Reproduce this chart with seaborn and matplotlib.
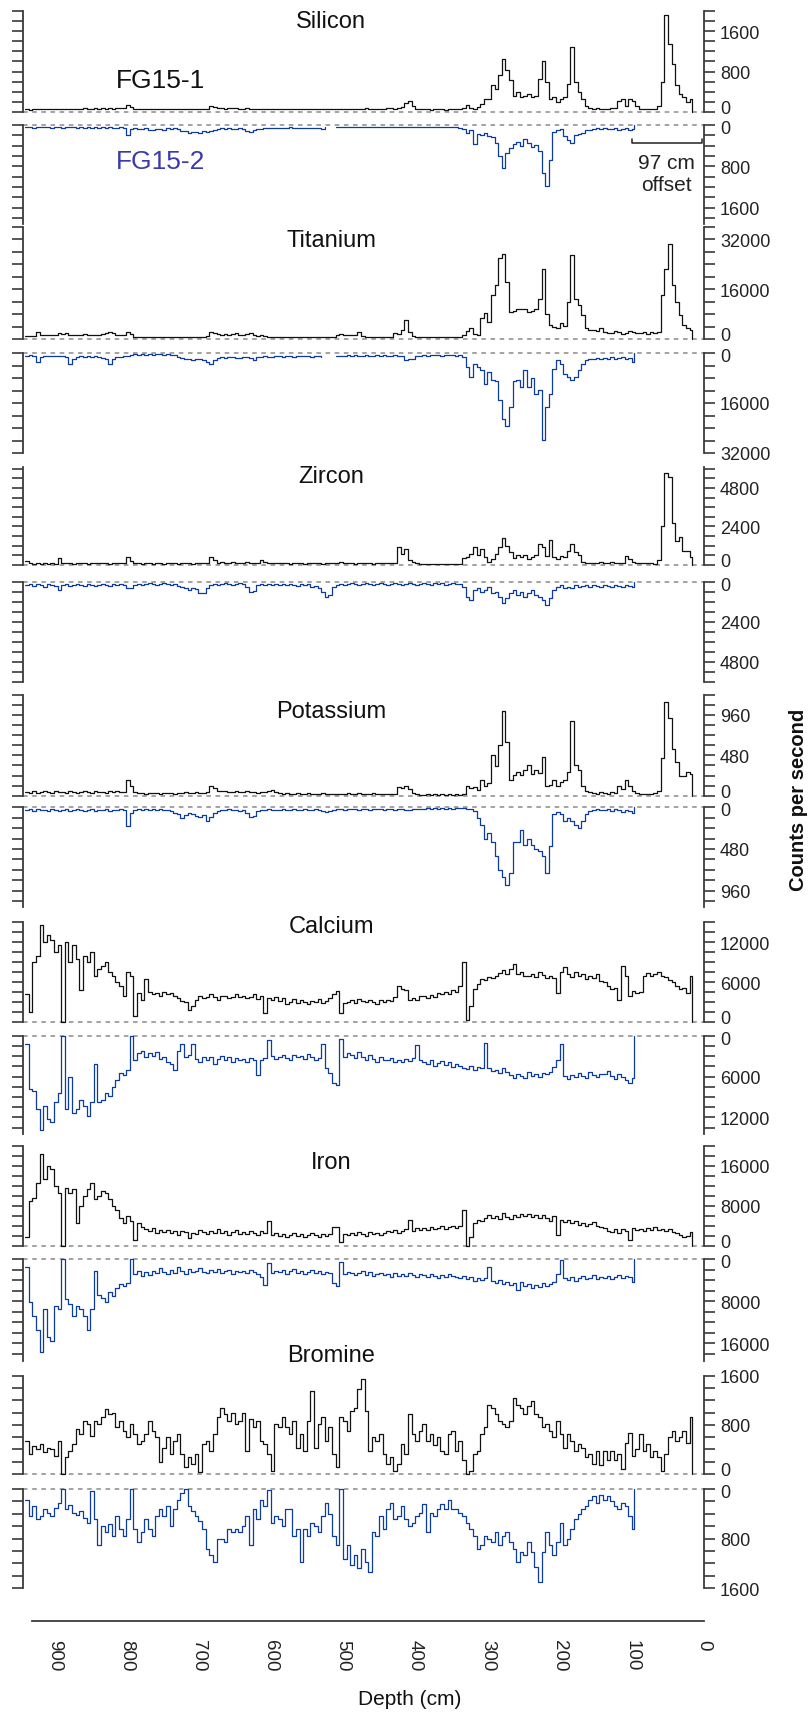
import numpy as np
import pandas as pd
import matplotlib
matplotlib.use("Agg")
import matplotlib.pyplot as plt
import seaborn as sns
from matplotlib.ticker import MultipleLocator, FuncFormatter

nan = np.nan

# ---------------- data ----------------
DEPTH_1 = list(range(940, 15, -5)) + [17]   # FG15-1 depths (cm)
DEPTH_2 = list(range(940, 95, -5)) + [97]   # FG15-2 depths (cm)

SI_1 = [50,40,60,50,45,55,50,60,45,50, 55,50,60,45,55,50,65,55,60,70,
        60,65,55,70,60,75,80,70,140,90, 60,55,50,60,55,50,60,55,50,45,
        50,55,45,50,60,55,50,45,50,55, 60,110,100,80,70,60,75,65,70,60,
        55,65,60,50,55,60,50,45,55,60, 50,55,60,55,45,50,55,60,50,55,
        60,55,50,60,55,50,45,55,50,60, 55,60,50,55,65,60,55,50,60,55,
        65,70,60,75,90,180,220,120,60,50, 45,50,40,45,50,45,40,50,45,50,
        60,80,130,70,60,90,150,260,250,530, 460,730,1040,830,630,320,390,290,320,360,
        290,320,660,1010,600,250,290,185,250,290, 560,1280,600,390,250,115,80,60,70,50,
        60,50,80,70,220,250,115,250,220,115, 60,50,50,50,50,115,600,1930,1350,940,
        530,360,290,185,250, 0]
SI_2 = [40,30,50,40,35,45,30,50,40,45, 50,40,45,35,60,40,50,45,55,40,
        50,45,60,40,55,50,45,60,200,80, 60,70,80,60,90,100,80,70,90,60,
        70,60,80,110,120,150,140,130,160,110, 140,120,100,80,60,70,60,80,70,60,
        70,120,130,90,80,70,60,60,50,60, 50,60,55,45,50,60,55,50,60,55,
        50,60,70,35,nan,nan,40,35,40,30, 35,40,30,40,35,30,40,35,30,40,
        35,30,40,35,30,40,35,40,30,35, 40,35,30,35,40,30,35,40,30,35,
        60,80,150,100,370,180,200,150,210,240, 340,600,830,540,450,360,320,400,280,350,
        420,380,500,930,1190,670,145,100,80,210, 300,340,200,180,150,100,90,80,60,70,
        60,80,70,60,100,80,60,90,70, 0]

TI_1 = [1000,900,1100,2300,1300,1200,1400,1300,1200,1800, 1500,1800,1300,1200,1400,1300,1500,1200,1300,1400,
        1300,1500,2000,2300,1800,1400,1300,1200,2300,1600, 700,600,500,700,600,500,600,700,500,600,
        600,500,700,600,500,600,700,600,500,700, 900,2300,1800,1500,1300,1600,1200,1500,1800,1300,
        1200,1500,1800,1300,1000,1200,900,700,800,600, 700,600,700,800,600,700,600,700,800,700,
        600,700,800,700,600,700,1300,1500,1200,1300, 1400,1200,2100,900,700,600,700,800,600,700,
        700,800,1800,1500,3000,6100,2300,900,700,600, 700,600,700,800,700,600,700,800,600,700,
        700,1300,2500,3400,1500,1300,6600,8200,5500,14000, 17300,26000,27400,18300,8700,9000,9800,9500,9800,8800,
        9000,9600,13000,22600,8000,4500,4000,3400,5000,4200, 12000,26900,13000,10900,7700,3400,2800,3000,2500,3400,
        2300,2000,1800,2500,2300,1500,2000,2500,2300,2000, 1800,2200,1500,2300,2000,2300,14000,22600,30600,17300,
        12000,7700,4500,3400,3000, 0]
TI_2 = [800,700,1000,2900,1200,1000,900,1100,1000,900, 1000,1300,3400,2000,1300,1100,1200,1000,1300,1100,
        1200,1500,1800,3400,2000,1300,1200,1000,1100,500, 400,500,300,600,400,500,300,400,500,400,
        500,600,1200,1500,1800,2000,2300,1800,2000,2300, 2900,3400,2300,1500,1300,1600,1400,1300,1500,1600,
        1400,1300,1500,2300,1300,1200,1100,1400,1200,1100, 1000,1200,1100,900,1200,1000,1100,900,1000,1300,
        1100,1000,1200,nan,nan,nan,800,900,800,700, 800,700,900,800,700,800,900,700,800,700,
        800,900,700,800,900,2300,2000,1800,900,800, 700,800,700,600,700,800,700,600,700,800,
        700,1300,4500,7700,3400,4500,5500,9800,6000,8700, 9000,15000,21000,23200,17300,9000,8700,10900,5500,10900,
        8000,13000,11800,27900,17300,13000,5000,2300,3400,6600, 7700,8700,7700,5500,3400,2300,1800,2000,1500,1800,
        1500,1800,1300,2000,1600,1400,1800,1500,2900, 0]

ZR_1 = [260,110,80,100,90,110,80,100,90,440, 120,100,110,90,100,120,100,90,110,100,
        110,100,120,90,110,130,100,110,500,220, 100,110,90,100,120,90,100,110,90,100,
        110,100,90,120,100,110,90,100,120,100, 110,500,330,150,160,140,150,170,140,150,
        140,160,150,130,150,330,200,150,110,100, 110,100,120,90,100,110,100,90,110,100,
        100,110,90,100,120,100,110,200,150,110, 100,90,110,100,120,100,90,110,100,120,
        100,110,100,1100,660,990,330,200,100,90, 80,70,90,60,70,80,60,70,80,70,
        90,440,500,660,1100,600,990,500,200,400, 700,1100,1650,1210,800,450,600,500,650,400,
        500,600,1320,1100,550,1540,500,400,550,500, 900,1320,800,600,200,150,120,100,150,180,
        120,100,200,150,120,150,550,400,160,120, 110,150,120,100,80,300,2420,5700,5500,2640,
        1500,1760,880,900,500, 0]
ZR_2 = [200,150,250,150,200,300,150,200,250,500, 200,150,250,200,150,200,250,150,200,250,
        200,150,200,250,150,200,150,200,350,400, 200,150,200,150,100,150,200,150,100,150,
        200,150,250,300,400,500,350,450,700,650, 400,200,150,200,150,100,150,200,150,100,
        150,300,600,550,200,150,200,150,200,150, 200,150,200,150,200,250,150,200,150,300,
        250,400,600,900,800,300,200,150,200,150, 100,150,200,150,100,150,200,150,100,150,
        200,150,100,150,200,150,100,150,200,150, 100,150,200,100,150,100,200,150,100,150,
        150,300,900,1100,500,400,600,500,300,700, 600,900,1300,1000,700,500,800,600,900,700,
        500,800,900,1100,1400,1000,500,300,200,400, 300,400,200,300,250,200,300,200,250,300,
        200,250,300,200,250,300,200,250,300, 0]

K_1 = [40,30,50,35,45,60,40,35,50,40, 45,35,50,40,35,45,55,40,35,50,
       40,45,35,50,40,55,45,40,190,110, 40,30,35,25,30,35,30,25,35,30,
       30,25,35,30,40,30,35,40,30,35, 45,120,90,60,55,50,45,40,50,45,
       40,50,45,40,35,40,45,50,70,40, 30,25,30,20,25,30,25,20,30,25,
       20,25,30,20,25,20,15,25,20,30, 25,20,30,25,20,25,30,20,25,20,
       15,20,25,100,90,110,80,30,15,10, 10,15,10,20,10,15,10,20,10,15,
       10,20,110,90,100,70,190,110,150,480, 350,600,1010,640,190,250,280,250,300,360,
       260,300,270,460,110,130,190,110,160,190, 280,890,360,300,110,60,40,30,20,40,
       30,20,40,30,110,80,190,110,60,30, 20,15,20,25,30,60,450,1110,930,560,
       400,230,230,280,260, 0]
K_2 = [30,20,40,25,35,30,45,20,35,40, 35,25,40,30,20,35,45,30,25,40,
       30,35,25,40,30,35,25,30,220,60, 30,25,35,20,30,25,35,20,30,35,
       40,60,80,120,90,60,80,100,110,90, 155,110,70,40,30,35,25,30,35,40,
       30,60,110,100,40,30,35,25,30,35, 30,25,35,30,25,35,30,25,30,35,
       25,30,40,50,40,35,25,20,30,25, 20,25,30,20,25,30,20,25,20,30,
       25,20,30,25,20,35,30,20,25,20, 15,10,15,10,15,10,15,10,15,10,
       10,10,15,20,40,120,200,360,300,400, 560,720,800,900,760,400,400,260,440,360,
       440,480,500,560,760,450,80,50,80,155, 120,160,200,240,160,80,40,30,25,35,
       30,20,40,25,35,50,30,40,70, 0]

CA_1 = [4200,1600,9000,10000,14600,12100,13100,12300,10600,11600, 0,12100,9000,11600,9500,4800,10000,9000,10600,7000,
        8000,8500,9000,7500,7000,6000,5500,3900,7500,7000, 900,4400,3400,6500,4600,4200,4400,3900,4600,4200,
        4400,4000,3600,3200,3000,1900,2400,3400,3900,3600, 3800,4200,3800,3400,3900,4000,3600,3800,4200,3800,
        4000,3600,3800,4200,3500,3900,1400,3600,3400,3800, 3200,3600,2800,3100,3500,2900,3300,3000,2700,3200,
        3100,3500,2900,3200,3600,4200,4700,1400,2900,3100, 3300,2900,3500,3200,3000,3400,3100,2800,3300,3000,
        3400,3200,3800,5500,5000,4900,3400,3600,3300,3900, 4000,3600,4100,3800,4400,4200,4600,4300,4800,4600,
        5500,9000,350,2400,5000,5700,6500,6400,6800,6600, 7000,7400,7800,7200,8000,8800,7200,7600,7000,6900,
        7300,6800,7500,7100,6600,7000,6700,4400,7500,8300, 7200,6800,7600,6900,7300,6500,7000,6600,7200,6200,
        6000,5500,5000,5200,3400,8500,7000,3900,4700,4400, 4600,7000,7400,7000,7200,7500,7000,6800,6400,6000,
        5500,5000,5200,4400,7000, 0]
CA_2 = [1200,7900,8200,10800,13900,10300,12200,12700,9800,8400, 0,10800,6000,11300,10800,9400,10300,11800,9800,4100,
        9800,9400,8400,8900,7500,6500,5500,5800,5000,0, 3600,2600,2200,3100,2600,3000,2400,3400,3100,3800,
        4100,5000,2200,1200,3100,2900,1200,3400,3800,3100, 3600,3100,4100,3400,3000,3600,3200,3900,3300,3600,
        3400,3800,3300,3600,5800,3600,3300,700,3000,3400, 3100,2800,3300,3500,2900,3200,3000,3400,2700,3100,
        3600,3300,1200,4700,5500,7000,7200,500,3200,2600, 2900,3300,2400,3100,3600,2800,3400,3800,3200,3500,
        3600,3300,3900,3500,3800,3400,3700,3300,1400,3600, 3800,4200,3600,4400,4000,3700,4300,3900,4600,4200,
        4400,4700,4900,4400,5000,4600,4800,1000,4700,5200, 5000,5500,4800,5400,5800,6200,5600,5900,6200,5400,
        5900,5600,6100,5500,5700,5300,4600,3500,1200,5900, 6300,5800,6100,5500,5900,6200,5400,5800,6000,5600,
        5700,5200,5900,6300,5600,6000,6500,7000,6200, 0]

FE_1 = [1800,8900,9600,12600,18400,13300,16000,15300,11900,10600, 0,11600,10600,11300,4500,7900,9900,11300,12600,9300,
        9900,11000,10600,9300,7900,7200,5500,4500,5900,4900, 1100,4500,3800,3300,3000,3500,2600,3100,2800,3200,
        2500,2900,2200,3000,2700,1500,2600,2300,3100,2800, 2400,3000,2600,3300,2500,2900,2200,2700,3100,2400,
        2800,2300,3000,2600,2200,2900,2500,4900,2100,2600, 2000,2400,1700,2200,2600,1900,2300,1800,2100,2500,
        2200,1800,2400,2000,2300,3800,3800,800,2400,2100, 2600,2200,2800,2400,2000,2700,2300,2600,2100,2500,
        2900,2700,3100,2600,3000,3300,5200,3000,3500,3200, 3500,3100,3800,3300,3600,3900,3400,3700,4000,3600,
        4000,7200,0,1800,4500,5200,4900,5500,6200,5600, 6000,5300,6500,5800,5400,6200,5700,6300,5900,6400,
        5800,6100,5500,6200,5600,5000,6000,2200,5200,4800, 5100,4500,4900,4200,4600,3900,4300,4700,4000,3800,
        3500,3000,2800,3300,2500,3400,2900,1100,3600,3100, 3300,2900,3500,3100,3700,3200,3400,3000,3300,2800,
        2500,2200,1800,2000,2800, 0]
FE_2 = [1500,8200,10900,13600,17700,9500,14900,15600,8900,9500, 0,7600,8500,10900,9000,9600,10900,13600,9500,2200,
        6900,7500,8200,6200,7000,5500,4800,5200,4500,0, 2800,2200,3200,2500,3000,2200,2600,1800,2400,2900,
        2100,2600,1600,2300,2800,1900,2500,2200,1700,2400, 2700,2100,2500,1900,2600,2300,2000,2800,2200,2500,
        2300,2700,2000,2400,2900,3500,4900,800,2600,2200, 2500,2100,2800,2300,1900,2600,2200,2900,2400,2000,
        2600,2300,2900,2400,2700,4500,5200,500,2800,2400, 2600,3100,2700,2300,3000,2500,3300,2800,2600,3100,
        2900,3400,2700,3200,2800,3300,2600,3100,3500,2800, 3000,3400,2800,3300,3600,3100,3500,2900,3200,3400,
        3600,3300,3900,3500,4100,3700,4000,3600,1500,4200, 4500,4000,4800,4300,5000,4600,5900,4400,5200,4700,
        5500,4900,5300,4600,5100,4800,4400,2800,100,3600, 4000,3500,4200,3700,3300,3900,3600,3100,3800,3400,
        3600,3200,3900,3400,3000,3700,3300,3500,4300, 0]

BR_1 = [540,325,460,400,490,350,420,400,300,540, 0,270,380,490,730,650,860,810,620,860,
        810,920,1050,970,1000,760,870,700,600,810, 650,490,540,650,860,700,600,190,430,600,
        325,540,650,325,110,270,160,325,30,490, 540,380,650,920,1080,970,860,1000,810,860,
        1000,380,890,760,860,540,490,325,50,810, 760,920,760,650,860,430,650,380,860,1350,
        430,810,920,540,760,325,110,920,860,700, 1030,1080,1380,1550,1030,380,600,540,650,325,
        160,270,50,160,490,325,970,650,540,700, 810,540,650,480,600,380,325,650,700,380,
        540,220,0,50,325,380,650,760,1130,1080, 970,860,810,760,860,1240,1130,1080,970,1100,
        1190,970,920,760,810,700,600,860,650,430, 650,540,380,490,430,270,325,160,380,150,
        380,220,380,220,320,80,500,675,300,400, 650,380,490,270,380,270,50,320,600,700,
        540,600,700,500,920, 0]
BR_2 = [170,440,280,490,440,330,380,440,310,230, 0,330,250,390,420,360,470,540,30,490,
        910,600,700,560,755,440,650,760,490,0, 650,860,700,490,650,760,440,330,440,280,
        600,330,170,60,0,280,360,440,520,650, 970,1070,1180,810,810,860,650,700,650,700,
        600,440,910,330,490,170,280,20,540,440, 490,600,330,330,760,650,1180,650,760,540,
        600,700,440,230,400,760,910,0,1125,910, 1230,1060,1280,970,1180,1335,700,760,440,650,
        330,230,490,440,280,490,600,540,440,380, 240,700,380,440,330,240,330,170,330,330,
        380,440,540,650,760,970,910,760,810,860, 700,910,760,700,860,970,1180,1020,1070,860,
        1020,1250,1500,1020,700,910,1070,860,540,910, 810,650,490,400,330,280,170,120,230,100,
        170,120,200,280,330,230,280,440,650, 0]

ELEMENTS = ["Silicon", "Titanium", "Zircon", "Potassium", "Calcium", "Iron", "Bromine"]
SERIES_1 = [SI_1, TI_1, ZR_1, K_1, CA_1, FE_1, BR_1]
SERIES_2 = [SI_2, TI_2, ZR_2, K_2, CA_2, FE_2, BR_2]
MAJOR = [800, 16000, 2400, 480, 6000, 8000, 800]
MINOR = [200, 4000, 600, 120, 1500, 2000, 200]
CORE_LABELS = ["FG15-1", "FG15-2"]
DEPTH_TICKS = [900, 800, 700, 600, 500, 400, 300, 200, 100, 0]

# ---------------- layout (pixels) ----------------
W, H = 809, 1715
LAY_1 = [(12.2, 112.7, 2000), (228, 340, 36000), (468, 566, 6100), (695.8, 796.7, 1200),
         (923.3, 1023.3, 15000), (1147, 1246.7, 20000), (1376.7, 1475, 1600)]
LAY_2 = [(126, 225, 1920), (354, 454, 32000), (582.7, 683, 6000), (808.3, 908, 1150),
         (1036.7, 1135, 14450), (1260, 1361.7, 19370), (1490, 1589.3, 1600)]
TITLE_Y = [22, 241, 477, 712, 927, 1163, 1356]

BLACK = "#111111"
BLUE = "#0b3c9e"
SPINE = "#3a3a3a"
X_LEFT, X_RIGHT = 23, 704
TICK_LEN, TICK_PAD, LABEL_SIZE = 8, 3.5, 13

sns.set_theme(style="white")
plt.rcParams["font.family"] = ["Liberation Sans", "DejaVu Sans"]

fig = plt.figure(figsize=(W / 100, H / 100), dpi=100)


def add_ax(top, bottom, left=X_LEFT, right=X_RIGHT):
    return fig.add_axes([left / W, 1 - bottom / H, (right - left) / W, (bottom - top) / H])


def draw_series(ax, depth, values, color):
    df = pd.DataFrame({"depth": depth, "value": values})
    valid = df["value"].notna()
    seg = (~valid).cumsum()
    for _, part in df[valid].groupby(seg[valid]):
        sns.lineplot(data=part, x="depth", y="value", ax=ax, color=color, lw=0.9,
                     sort=False, estimator=None, drawstyle="steps-post", clip_on=False)


def style_panel(ax, major, minor, zero_shift):
    ax.set_xlim(943, 0)
    ax.set_xticks([])
    ax.set_xlabel("")
    ax.set_ylabel("")
    for s in ["top", "bottom"]:
        ax.spines[s].set_visible(False)
    for s in ["left", "right"]:
        ax.spines[s].set_color(SPINE)
        ax.spines[s].set_linewidth(1.3)
    ax.yaxis.set_major_locator(MultipleLocator(major))
    ax.yaxis.set_minor_locator(MultipleLocator(minor))
    ax.yaxis.set_major_formatter(
        FuncFormatter(lambda v, p: "" if abs(v) < 1e-9 else f"{int(round(v))}"))
    ax.tick_params(axis="y", which="both", left=True, right=True, labelleft=False,
                   labelright=True, direction="out", length=TICK_LEN, width=1.2, color=SPINE,
                   labelsize=LABEL_SIZE, labelcolor="#222222", pad=TICK_PAD)
    ax.patch.set_alpha(0)
    ax.axhline(0, color="#8a8a8a", lw=1.1, ls=(0, (3, 3)), clip_on=False, zorder=0.5)
    # zero label, nudged away from the neighbouring panel's zero label
    ax.annotate("0", xy=(1, 0), xycoords=("axes fraction", "data"),
                xytext=(TICK_LEN + TICK_PAD, zero_shift), textcoords="offset points",
                ha="left", va="center", fontsize=LABEL_SIZE, color="#222222",
                annotation_clip=False)


for i, name in enumerate(ELEMENTS):
    t1, b1, lim1 = LAY_1[i]
    ax1 = add_ax(t1, b1)
    draw_series(ax1, DEPTH_1, SERIES_1[i], BLACK)
    ax1.set_ylim(0, lim1)
    style_panel(ax1, MAJOR[i], MINOR[i], 2.6)

    t2, b2, lim2 = LAY_2[i]
    ax2 = add_ax(t2, b2)
    draw_series(ax2, DEPTH_2, SERIES_2[i], BLUE)
    ax2.set_ylim(lim2, 0)
    style_panel(ax2, MAJOR[i], MINOR[i], -2.6)

    fig.text(331 / W, 1 - TITLE_Y[i] / H, name, ha="center", va="center",
             fontsize=17, color="#111111")

    if i == 0:
        # 97 cm offset bracket
        ax2.plot([100, 100, 3, 3], [270, 345, 345, 270], color="#222222", lw=1.1,
                 clip_on=False)
        ax2.text(52, 720, "97 cm", ha="center", va="center", fontsize=15, color="#222222")
        ax2.text(52, 1160, "offset", ha="center", va="center", fontsize=15, color="#222222")

# core labels
fig.text(161 / W, 1 - 81 / H, CORE_LABELS[0], ha="center", va="center", fontsize=19,
         color="#111111")
fig.text(161 / W, 1 - 162 / H, CORE_LABELS[1], ha="center", va="center", fontsize=19,
         color="#3a3aae")

# depth axis
axd = add_ax(1621, 1621.5, left=32, right=704)
axd.set_xlim(931, 0)
axd.set_yticks([])
for s in ["top", "left", "right"]:
    axd.spines[s].set_visible(False)
axd.spines["bottom"].set_color(SPINE)
axd.spines["bottom"].set_linewidth(1.3)
axd.xaxis.set_major_locator(MultipleLocator(50))
axd.xaxis.set_minor_locator(MultipleLocator(25))
axd.xaxis.set_major_formatter(FuncFormatter(
    lambda v, p: f"{int(round(v))}" if int(round(v)) in DEPTH_TICKS else ""))
axd.tick_params(axis="x", which="major", direction="out", length=9, width=1.2,
                color=SPINE, labelsize=13.5, labelcolor="#222222", labelrotation=-90, pad=4)
axd.tick_params(axis="x", which="minor", direction="out", length=5.5, width=1.2, color=SPINE)
axd.patch.set_alpha(0)

fig.text(410 / W, 1 - 1700 / H, "Depth (cm)", ha="center", va="center", fontsize=15,
         color="#111111")
fig.text(798 / W, 1 - 800 / H, "Counts per second", ha="center", va="center",
         fontsize=14.5, fontweight="bold", rotation=90, color="#111111")

fig.savefig("out.png", dpi=100)
